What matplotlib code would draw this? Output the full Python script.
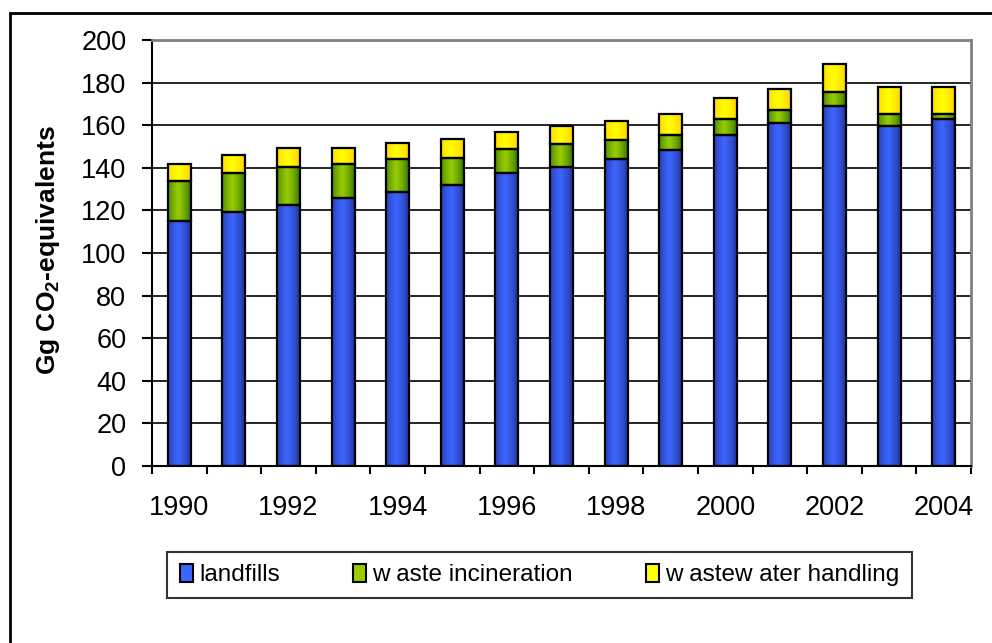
import numpy as np
import matplotlib
matplotlib.use("Agg")
import matplotlib.pyplot as plt
from matplotlib.patches import Patch, Rectangle
from matplotlib.colors import to_rgb

plt.rcParams['font.family'] = ['Liberation Sans', 'DejaVu Sans']
plt.rcParams['mathtext.fontset'] = 'custom'
plt.rcParams['mathtext.rm'] = 'Liberation Sans'
plt.rcParams['mathtext.bf'] = 'Liberation Sans:bold'

years = list(range(1990, 2005))
landfills = [115.0, 119.2, 122.5, 125.7, 128.8, 132.1, 137.4, 140.5, 144.0, 148.2, 155.4, 160.9, 169.0, 159.8, 162.9]
waste_incineration = [18.9, 18.2, 18.0, 15.9, 15.1, 12.6, 11.6, 10.7, 9.2, 7.2, 7.6, 6.2, 6.4, 5.5, 2.4]
wastewater_handling = [7.9, 8.6, 8.9, 7.8, 7.6, 8.9, 7.7, 8.6, 8.9, 10.0, 9.7, 9.9, 13.2, 12.7, 12.7]
series_names = ["landfills", "w aste incineration", "w astew ater handling"]
y_label = "Gg CO$_\\mathbf{2}$-equivalents"
y_ticks = list(range(0, 201, 20))

colors_mid = ["#3D66FF", "#99CC00", "#FFFF00"]
colors_edge = ["#1A2A8A", "#1F6600", "#FFC800"]

fig = plt.figure(figsize=(9.92, 6.43), dpi=100)
ax = fig.add_axes([152/992, 1-466/643, 819/992, 426/643])

x = np.arange(len(years))
width = 0.42
data = [landfills, waste_incineration, wastewater_handling]
bottom = np.zeros(len(years))
containers = []
for vals in data:
    bc = ax.bar(x, vals, width, bottom=bottom, facecolor='none', edgecolor='black',
                linewidth=1.6, zorder=3)
    containers.append(bc)
    bottom = bottom + np.array(vals)


def gradient(c_edge, c_mid, n=64):
    t = np.linspace(0, 1, n)
    w = np.clip(1 - np.abs(t - 0.45) / 0.55, 0, 1) ** 0.6
    e = np.array(to_rgb(c_edge))
    m = np.array(to_rgb(c_mid))
    g = e[None, :] * (1 - w[:, None]) + m[None, :] * w[:, None]
    return g[None, :, :]

for bc, ce, cm in zip(containers, colors_edge, colors_mid):
    g = gradient(ce, cm)
    for p in bc.patches:
        x0, y0 = p.get_xy()
        im = ax.imshow(g, extent=[x0, x0 + p.get_width(), y0, y0 + p.get_height()],
                       aspect='auto', zorder=2.5, interpolation='bilinear')
        im.set_clip_path(p)

ax.set_xlim(-0.5, len(years) - 0.5)
ax.set_ylim(0, 200)
ax.set_aspect('auto')
ax.set_yticks(y_ticks)
ax.set_yticklabels([str(v) for v in y_ticks])
ax.yaxis.grid(True, color='black', linewidth=1.2)
ax.set_axisbelow(True)

ax.set_xticks(x[::2])
ax.set_xticklabels([str(years[i]) for i in x[::2]])
ax.set_xticks(np.arange(len(years) + 1) - 0.5, minor=True)
ax.tick_params(axis='x', which='major', length=0, pad=21, labelsize=19.5)
ax.tick_params(axis='x', which='minor', length=6, width=1.5, direction='out')
ax.tick_params(axis='y', length=7.5, width=1.5, direction='out', pad=11, labelsize=19.5)

for s in ['left', 'bottom']:
    ax.spines[s].set_color('black')
    ax.spines[s].set_linewidth(1.5)
for s in ['top', 'right']:
    ax.spines[s].set_color('#808080')
    ax.spines[s].set_linewidth(2)

ax.set_ylabel(y_label, fontsize=19, fontweight='bold', va='center')
ax.yaxis.set_label_coords(-0.127, 0.507)

handles = [Patch(facecolor=c, edgecolor='black', linewidth=1.5) for c in colors_mid]
leg = fig.legend(handles, series_names, loc='center', bbox_to_anchor=(539.5/992, 68/643),
                 ncol=3, fontsize=17.5, frameon=True, fancybox=False, edgecolor='black',
                 handlelength=0.55, handleheight=0.75, handletextpad=0.25, columnspacing=3.0,
                 borderpad=0.5, borderaxespad=0)
leg.get_frame().set_linewidth(1.5)

fig.patches.append(Rectangle((10/992, -0.2), 1.2, 1 - 13/643 + 0.2, transform=fig.transFigure,
                             fill=False, edgecolor='black', linewidth=2))

fig.savefig("out.png", dpi=100)
